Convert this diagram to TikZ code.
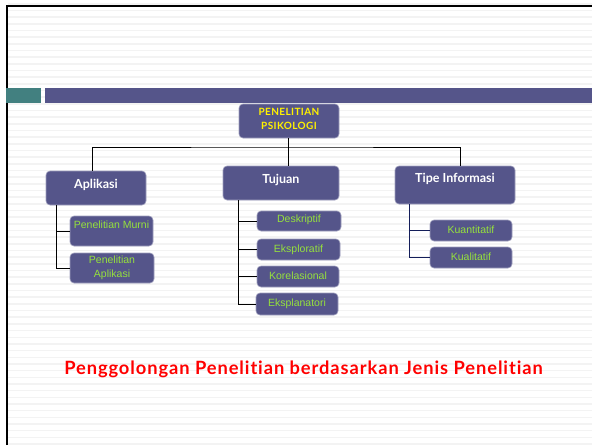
\documentclass[tikz,border=0pt]{standalone}
\usepackage{fontspec}
\setmainfont{Lato}[Ligatures=NoCommon]
\newfontfamily\ttlf{Lato}[Ligatures=NoCommon, LetterSpace=5]
\newfontfamily\topf{Lato}[Ligatures=NoCommon, LetterSpace=4]
\newfontfamily\arialf{Liberation Sans}
\definecolor{boxc}{RGB}{85,85,138}
\definecolor{boxedge}{RGB}{160,160,190}
\definecolor{teal}{RGB}{66,128,128}
\definecolor{grn}{RGB}{150,226,60}
\definecolor{ttl}{RGB}{255,0,0}
\definecolor{navy}{RGB}{20,30,90}
\definecolor{stripe}{RGB}{243,243,243}
\tikzset{
  box/.style={rectangle, rounded corners=4pt, fill=boxc, draw=boxedge, line width=0.6pt, inner sep=0pt},
  toptxt/.style={text=yellow, font=\topf\bfseries\fontsize{10}{14}\selectfont, align=center},
  midtxt/.style={text=white, font=\bfseries\fontsize{12.5}{14}\selectfont},
  leaftxt/.style={text=grn, font=\arialf\fontsize{10.5}{14}\selectfont, align=center},
  conn/.style={line width=0.8pt, black},
}
\newcommand{\up}[2]{\raisebox{#1}[0pt][0pt]{#2}}
\begin{document}
\begin{tikzpicture}[x=1pt,y=-1pt]
\useasboundingbox (0,0) rectangle (592,445);
\fill[white] (0,0) rectangle (592,445);
% stripes
\foreach \i in {0,...,66} {
  \fill[stripe] (8,{3+\i*6.67}) rectangle (592,{4.6+\i*6.67});
}
% frame
\draw[line width=2.2pt, black] (7,445) -- (7,6) -- (592,6);
% header bar
\fill[teal] (6,88) rectangle (41,103);
\fill[boxc] (45,88) rectangle (592,103);

% nodes
\node[box, toptxt, minimum width=100, minimum height=34] (root) at (289,121) {\up{-1pt}{PENELITIAN}\\\up{-1pt}{PSIKOLOGI}};

\node[box, midtxt, minimum width=100, minimum height=34] (apl) at (96,188) {\up{0pt}{Aplikasi}};
\node[box, midtxt, minimum width=116, minimum height=34] (tuj) at (281,183) {\up{0pt}{Tujuan}};
\node[box, midtxt, minimum width=120, minimum height=38] (tip) at (455,185) {\up{2.5pt}{Tipe Informasi}};

\node[box, leaftxt, minimum width=83, minimum height=30] (murni) at (111.5,231) {\up{3pt}{Penelitian Murni}};
\node[box, leaftxt, minimum width=84, minimum height=30] (aplk) at (112,268) {Penelitian\\Aplikasi};

\node[box, leaftxt, minimum width=84, minimum height=20] (desk) at (299,221) {\up{-1.5pt}{Deskriptif}};
\node[box, leaftxt, minimum width=83, minimum height=21] (eksp) at (298.5,249.5) {\up{-2.5pt}{Eksploratif}};
\node[box, leaftxt, minimum width=82, minimum height=21] (kor) at (298,276.5) {\up{-2.5pt}{Korelasional}};
\node[box, leaftxt, minimum width=82, minimum height=22] (ekspl) at (297,304) {\up{-2.5pt}{Eksplanatori}};

\node[box, leaftxt, minimum width=82, minimum height=21] (kuan) at (471,230.5) {\up{-2.5pt}{Kuantitatif}};
\node[box, leaftxt, minimum width=82, minimum height=21] (kual) at (471,257.5) {\up{-2.5pt}{Kualitatif}};

% connectors top level
\coordinate (hb) at (288,147);
\draw[conn] (root.south -| hb) -- (tuj.north -| hb);
\draw[conn] (apl.north -| 92,0) |- (hb) -| (tip.north -| 460,0);

% Aplikasi children
\draw[conn] (apl.south -| 56,0) |- (aplk.west);
\draw[conn] (56,0 |- murni.west) -- (murni.west);

% Tujuan children
\draw[conn] (tuj.south -| 238,0) |- (ekspl.west);
\draw[conn] (238,0 |- desk.west) -- (desk.west);
\draw[conn] (238,0 |- eksp.west) -- (eksp.west);
\draw[conn] (238,0 |- kor.west) -- (kor.west);

% Tipe children
\draw[conn, navy] (tip.south -| 409,0) |- (kual.west);
\draw[conn, navy] (409,0 |- kuan.west) -- (kuan.west);

% title
\node[text=ttl, font=\ttlf\bfseries\fontsize{18.3}{20}\selectfont] (title) at (303.5,369) {Penggolongan Penelitian berdasarkan Jenis Penelitian};
\end{tikzpicture}
\end{document}
